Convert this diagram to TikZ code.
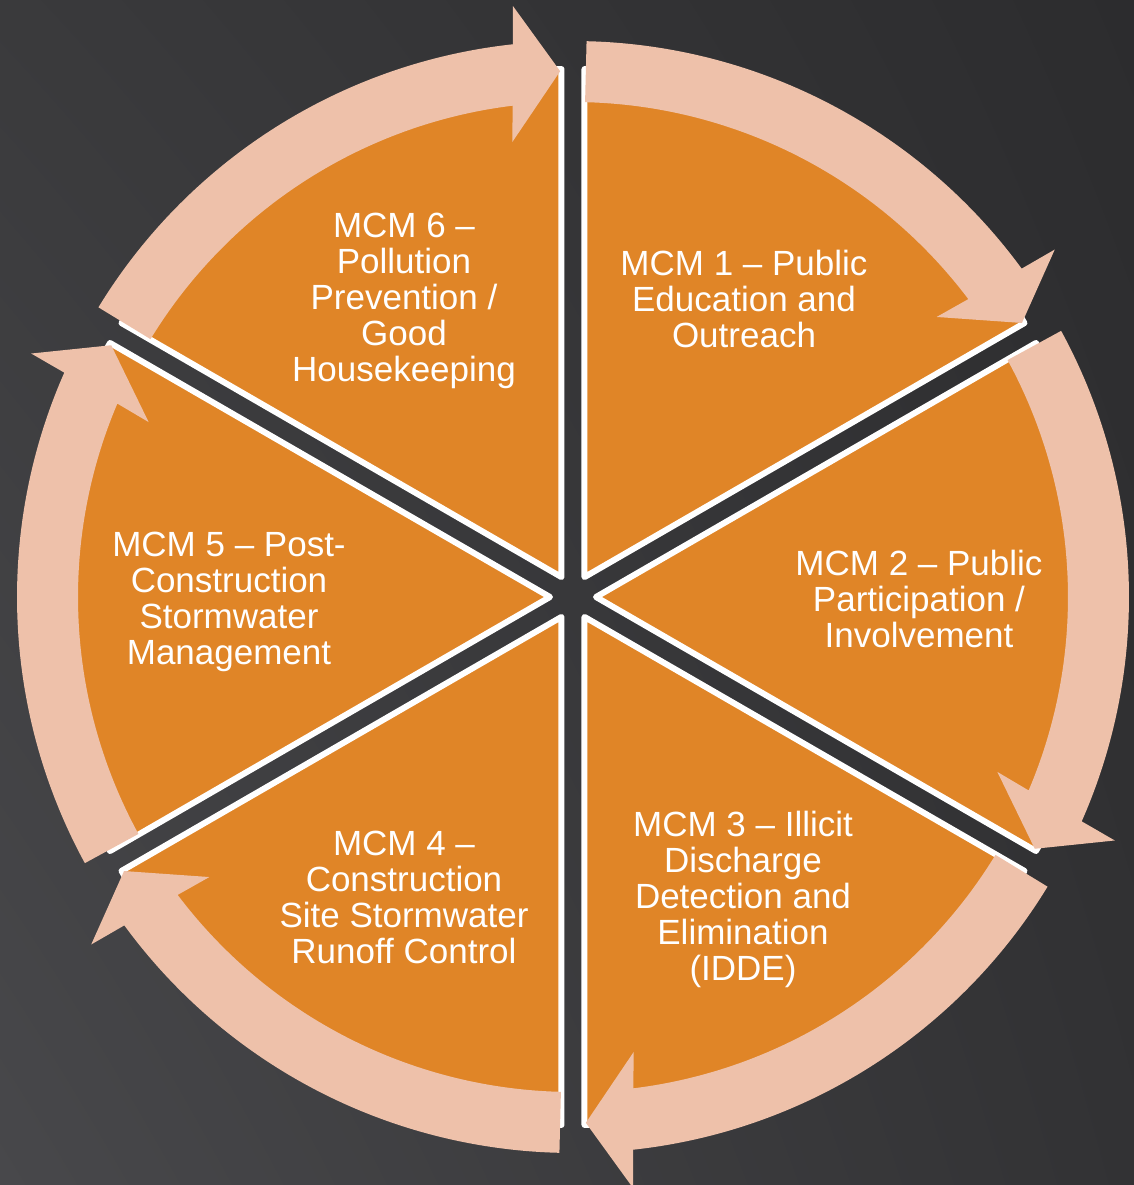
\documentclass[tikz,border=0pt]{standalone}
\usepackage{fontspec}
\setmainfont{Liberation Sans}
\usetikzlibrary{shadings}
\definecolor{mcmorange}{RGB}{224,133,39}
\definecolor{peach}{RGB}{238,193,170}
\definecolor{bgUL}{RGB}{58,58,60}
\definecolor{bgLL}{RGB}{72,72,75}
\definecolor{bgUR}{RGB}{44,44,46}
\definecolor{bgLR}{RGB}{50,50,52}
\tikzset{
  wedge/.style={fill=mcmorange, draw=white, line width=3pt, line join=round},
  arrowband/.style={fill=peach},
  lbl/.style={text=white, align=center, font=\fontsize{17.5}{18}\selectfont, inner sep=0pt, anchor=north}
}
\begin{document}
\begin{tikzpicture}[x=0.5pt,y=0.5pt]
\useasboundingbox (-573,-588) rectangle (561,597);
\shade[upper left=bgUL, lower left=bgLL, upper right=bgUR, lower right=bgLR] (-573,-588) rectangle (561,597);
% wedges
\foreach \b in {60,0,-60,-120,180,120} {
  \pgfmathsetmacro\ba{\b+30}
  \pgfmathsetmacro\bb{\b-30}
  \draw[wedge] (\b:23) -- ++(\ba:508) arc[start angle=\ba, end angle=\bb, radius=508] -- cycle;
}
% circular arrows
\foreach \S in {90,30,-30,-90,-150,-210} {
  \pgfmathsetmacro\s{\S-1.4}
  \pgfmathsetmacro\t{\S-60+1.4}
  \pgfmathsetmacro\on{\t+4.8}
  \pgfmathsetmacro\oc{\t+4.4}
  \pgfmathsetmacro\ic{\t+6.2}
  \pgfmathsetmacro\in{\t+5.6}
  \fill[arrowband] (\s:556) arc[start angle=\s, end angle=\on, radius=556]
    -- (\oc:594) -- (\t:526) -- (\ic:459) -- (\in:495)
    arc[start angle=\in, end angle=\s, radius=495] -- cycle;
}
% labels
\node[lbl] (m1) at (171,347) {MCM 1 – Public\\Education and\\Outreach};
\node[lbl] (m2) at (346,47) {MCM 2 – Public\\Participation /\\Involvement};
\node[lbl] (m3) at (170,-214) {MCM 3 – Illicit\\Discharge\\Detection and\\Elimination\\(IDDE)};
\node[lbl] (m4) at (-169,-234) {MCM 4 –\\Construction\\Site Stormwater\\Runoff Control};
\node[lbl] (m5) at (-344,65) {MCM 5 – Post-\\Construction\\Stormwater\\Management};
\node[lbl] (m6) at (-169,384) {MCM 6 –\\Pollution\\Prevention /\\Good\\Housekeeping};
\end{tikzpicture}
\end{document}
